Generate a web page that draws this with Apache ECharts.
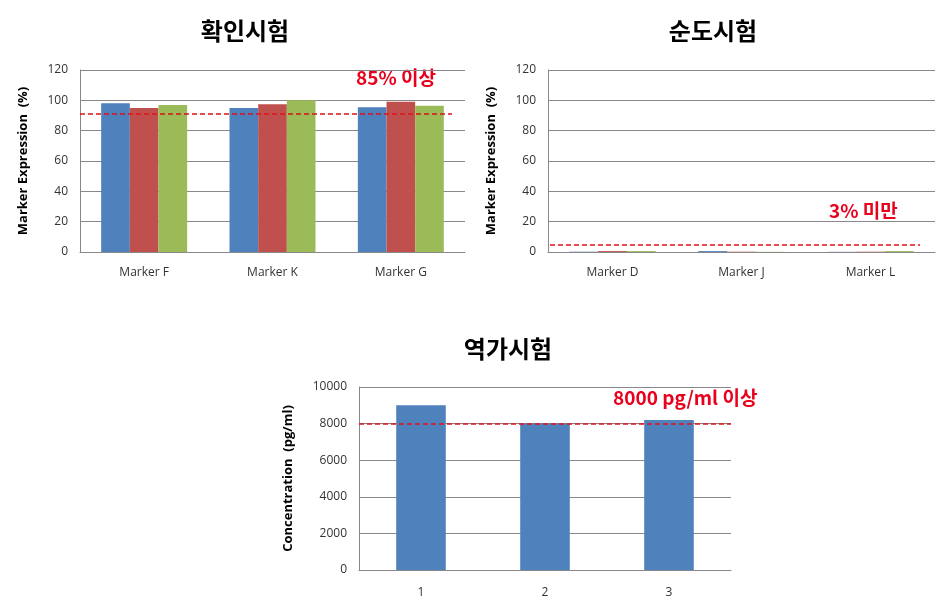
<!DOCTYPE html>
<html><head><meta charset="utf-8">
<script src="https://cdn.jsdelivr.net/npm/echarts@6/dist/echarts.min.js"></script>
<style>html,body{margin:0;padding:0;background:#fff}#c{width:949px;height:606px}</style>
</head><body><div id="c"></div>
<script>
const cats1 = ['Marker F', 'Marker K', 'Marker G'];
const s1Blue = [98, 95, 95.5];
const s1Red = [95, 97.5, 99];
const s1Green = [97, 100, 96.5];
const limit1 = 91;

const cats2 = ['Marker D', 'Marker J', 'Marker L'];
const s2Blue = [0.2, 0.6, 0.1];
const s2Red = [0.6, 0.2, 0.2];
const s2Green = [0.6, 0.1, 0.6];
const limit2 = 5;

const cats3 = ['1', '2', '3'];
const s3 = [9000, 8000, 8200];
const limit3 = 8000;

const titles = ['확인시험', '순도시험', '역가시험'];
const notes = ['85% 이상', '3% 미만', '8000 pg/ml 이상'];

const FONT = '"Open Sans", "Noto Sans CJK KR", sans-serif';
const KFONT = '"Noto Sans CJK KR", sans-serif';
const BLUE = '#4F81BD', RED = '#C0504D', GREEN = '#9BBB59';
const LINE_RED = '#E0101A';

function yAx(idx, max, interval, name, gap) {
  return {
    type: 'value', gridIndex: idx, min: 0, max: max, interval: interval,
    name: name, nameLocation: 'middle', nameGap: gap,
    nameTextStyle: {fontFamily: FONT, fontWeight: 'bold', fontSize: 13, color: '#000'},
    axisLine: {show: true, lineStyle: {color: '#888'}},
    axisTick: {show: false},
    axisLabel: {fontFamily: FONT, fontSize: 12, color: '#333', margin: 12, formatter: v => String(v)},
    splitLine: {lineStyle: {color: '#888', width: 1}}
  };
}
function xAx(idx, data, margin) {
  return {
    type: 'category', gridIndex: idx, data: data,
    axisLine: {lineStyle: {color: '#888'}},
    axisTick: {show: false},
    axisLabel: {fontFamily: FONT, fontSize: 12, color: '#333', margin: margin}
  };
}
function mline(v, x0, x1) {
  return {
    silent: true, symbol: 'none', label: {show: false},
    lineStyle: {color: LINE_RED, type: [5, 3], width: 1.6},
    data: [[{x: x0, yAxis: v}, {x: x1, yAxis: v}]]
  };
}
function bar(name, xi, data, color, extra) {
  return Object.assign({
    type: 'bar', name: name, xAxisIndex: xi, yAxisIndex: xi, data: data,
    itemStyle: {color: color}, barGap: '0%', barCategoryGap: '33%', animation: false
  }, extra || {});
}

const titleStyle = {fontFamily: KFONT, fontSize: 24, fontWeight: 'bold', color: '#000'};
const chart = echarts.init(document.getElementById('c'), null, {renderer: 'canvas'});
chart.setOption({
  animation: false,
  title: [
    {text: titles[0], left: 240, top: 14, textAlign: 'center', textStyle: titleStyle},
    {text: titles[1], left: 708, top: 14, textAlign: 'center', textStyle: titleStyle},
    {text: titles[2], left: 503, top: 332, textAlign: 'center', textStyle: titleStyle}
  ],
  grid: [
    {left: 80, top: 70, width: 385, height: 182},
    {left: 548, top: 70, width: 387, height: 182},
    {left: 359, top: 387, width: 372, height: 183}
  ],
  xAxis: [xAx(0, cats1, 15), xAx(1, cats2, 15), xAx(2, cats3, 17)],
  yAxis: [
    yAx(0, 120, 20, 'Marker Expression  (%)', 50),
    yAx(1, 120, 20, 'Marker Expression  (%)', 50),
    yAx(2, 10000, 2000, 'Concentration  (pg/ml)', 64)
  ],
  series: [
    bar('A', 0, s1Blue, BLUE),
    bar('B', 0, s1Red, RED),
    bar('C', 0, s1Green, GREEN, {markLine: mline(limit1, 80, 452)}),
    bar('A', 1, s2Blue, BLUE),
    bar('B', 1, s2Red, RED),
    bar('C', 1, s2Green, GREEN, {markLine: mline(limit2, 550, 920)}),
    bar('V', 2, s3, BLUE, {barCategoryGap: '60%', markLine: mline(limit3, 359, 731)})
  ],
  graphic: [
    {type: 'text', left: 356, top: 68, style: {text: notes[0], fontFamily: KFONT, fontSize: 19, fontWeight: 'bold', fill: '#E8001C'}},
    {type: 'text', left: 829, top: 201, style: {text: notes[1], fontFamily: KFONT, fontSize: 19, fontWeight: 'bold', fill: '#E8001C'}},
    {type: 'text', left: 613, top: 388, style: {text: notes[2], fontFamily: KFONT, fontSize: 19, fontWeight: 'bold', fill: '#E8001C'}}
  ]
});
</script></body></html>
